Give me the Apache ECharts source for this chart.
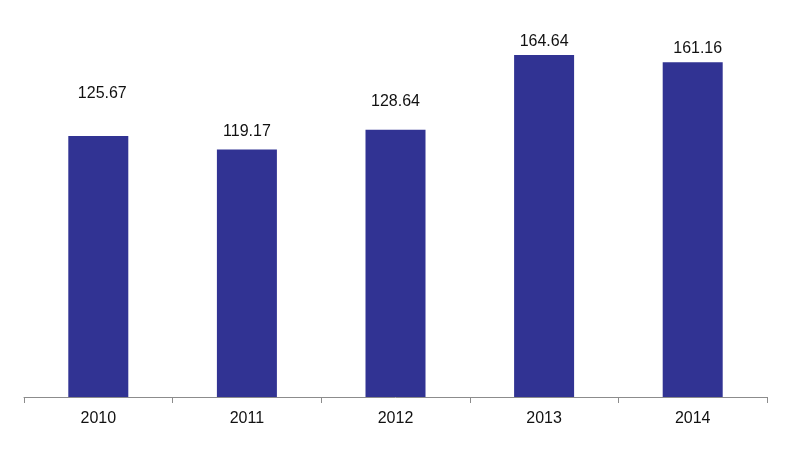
<!DOCTYPE html>
<html><head><meta charset="utf-8">
<script src="https://cdn.jsdelivr.net/npm/echarts@6/dist/echarts.min.js"></script>
<style>html,body{margin:0;padding:0;background:#fff}#c{width:787px;height:450px}</style>
</head><body><div id="c"></div>
<script>
const categories = ['2010', '2011', '2012', '2013', '2014'];
const values = [125.67, 119.17, 128.64, 164.64, 161.16];
// label gaps above each bar (style)
const labelGap = [34, 10, 20, 5, 6];
const labelShift = [4, 0, 0, 0, 5];

const chart = echarts.init(document.getElementById('c'));
chart.setOption({
  animation: false,
  grid: { left: 24, right: 20, top: 23, bottom: 53 },
  xAxis: {
    type: 'category', data: categories,
    axisLine: { lineStyle: { color: '#8c8c8c', width: 1 } },
    axisTick: { show: true, length: 6, lineStyle: { color: '#8c8c8c' } },
    axisLabel: { color: '#111', fontFamily: 'Liberation Sans', fontSize: 16, margin: 14 }
  },
  yAxis: { type: 'value', min: 0, max: 180, show: false, splitLine: { show: false } },
  series: [{
    type: 'bar', barWidth: 60,
    itemStyle: { color: '#313393' },
    data: values.map((v, i) => ({
      value: v,
      label: { show: true, position: 'top', distance: labelGap[i], offset: [labelShift[i], 0],
        color: '#111', fontFamily: 'Liberation Sans', fontSize: 16,
        formatter: p => p.value.toFixed(2) }
    }))
  }]
});
</script></body></html>
